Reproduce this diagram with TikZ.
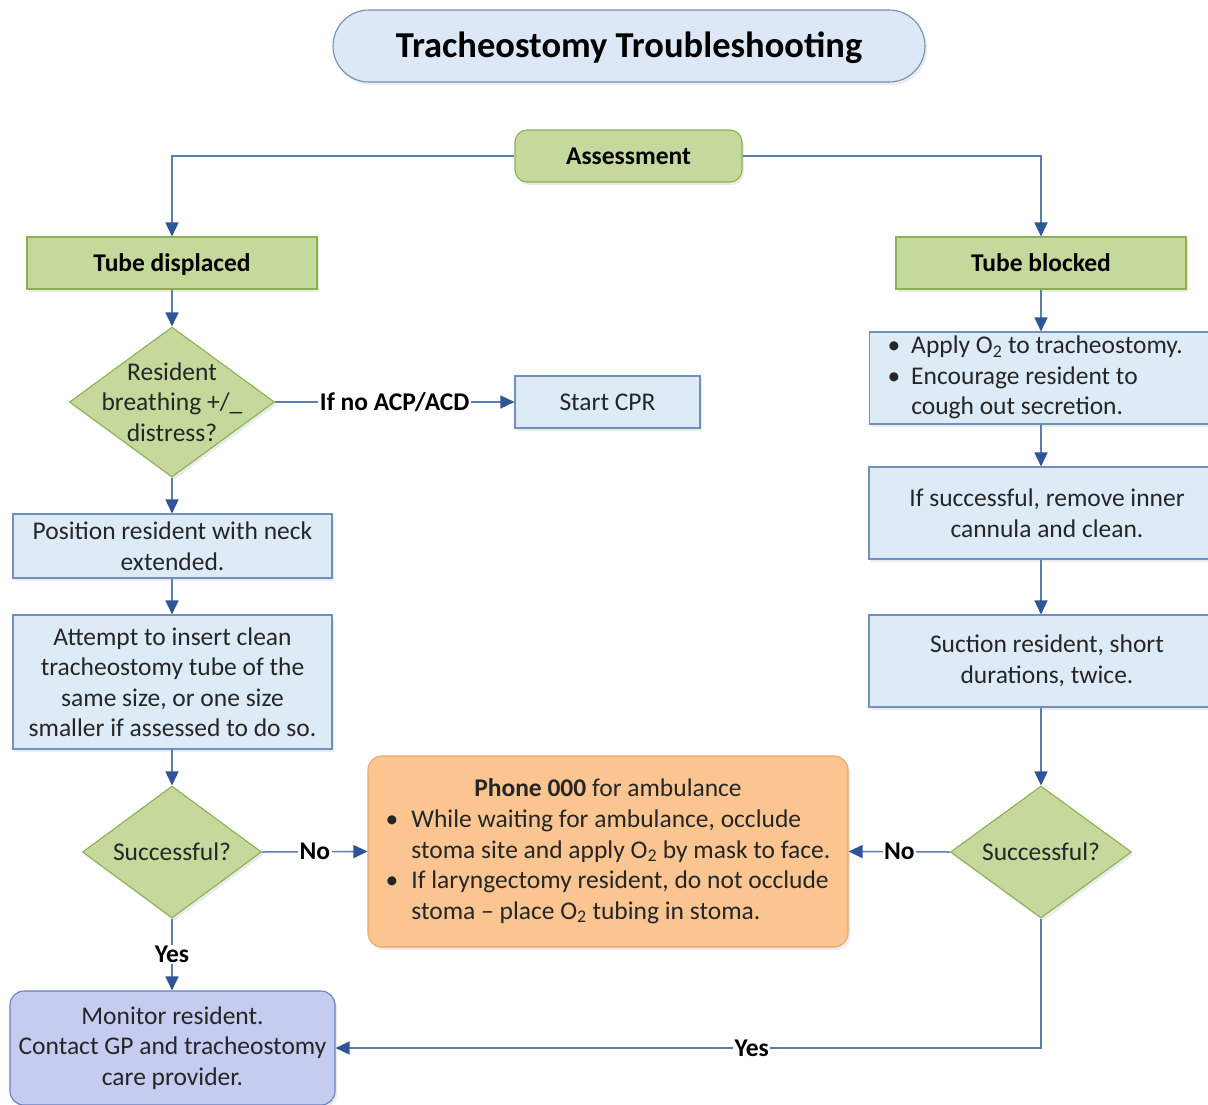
\documentclass[tikz,border=0pt]{standalone}
\usepackage{fontspec}
\setmainfont{Carlito}
\usetikzlibrary{arrows.meta,shapes.geometric,shadows}

\definecolor{lineblue}{HTML}{5A7DB4}
\definecolor{tipblue}{HTML}{2E5597}
\definecolor{greenfill}{HTML}{C4D99B}
\definecolor{greenedge}{HTML}{8DB055}
\definecolor{bluefill}{HTML}{DDEBF7}
\definecolor{blueedge}{HTML}{7090BF}
\definecolor{titlefill}{HTML}{DCE8F6}
\definecolor{titleedge}{HTML}{7090B8}
\definecolor{orangefill}{HTML}{FAC591}
\definecolor{orangeedge}{HTML}{E8A86A}
\definecolor{lavfill}{HTML}{C5CCF0}
\definecolor{lavedge}{HTML}{6A7EC0}

\tikzset{
  bodyfont/.style={font=\fontsize{25.5}{30.5}\selectfont, text=black!85},
  base/.style={bodyfont, inner sep=0pt, line width=1.1pt,
    drop shadow={opacity=0.16, shadow xshift=2pt, shadow yshift=-3pt}},
  greenbox/.style={base, rectangle, fill=greenfill, draw=greenedge,
    font=\bfseries\fontsize{25.5}{30.5}\selectfont, text=black,
    text height=20pt, text depth=4pt},
  bluebox/.style={base, rectangle, fill=bluefill, draw=blueedge, align=center},
  decision/.style={base, diamond, fill=greenfill, draw=greenedge},
  dtext/.style={bodyfont, align=center},
  arr/.style={draw=lineblue, line width=1.5pt,
    -{Triangle[length=14pt,width=13pt,color=tipblue]}},
  lbl/.style={fill=white, inner sep=1.5pt,
    font=\bfseries\fontsize{25.5}{30}\selectfont, text=black},
}

\begin{document}
\begin{tikzpicture}[x=1pt,y=-1pt]
\useasboundingbox (0,0) rectangle (1208,1104);
\clip (0,0) rectangle (1208,1104);

% title banner
\node[base, rectangle, rounded corners=36pt, fill=titlefill, draw=titleedge,
  minimum width=592pt, minimum height=72pt,
  font=\bfseries\fontsize{36.5}{40}\selectfont, text=black,
  text height=28pt, text depth=4.5pt]
  (title) at (629,46) {Tracheostomy Troubleshooting};

% top of the chart
\node[greenbox, rounded corners=12pt, minimum width=227pt, minimum height=52pt]
  (assess) at (628.5,156) {Assessment};
\node[greenbox, minimum width=290pt, minimum height=52pt]
  (tdisp) at (172,263) {Tube displaced};
\node[greenbox, minimum width=290pt, minimum height=52pt]
  (tblock) at (1041,263) {Tube blocked};

% left branch: displaced tube
\node[decision, minimum width=205pt, minimum height=150pt,
  label={[dtext]center:Resident\\breathing +/\_\\distress?}]
  (d1) at (172,402) {};
\node[bluebox, minimum width=185pt, minimum height=52pt]
  (cpr) at (607.5,402) {Start CPR};
\node[bluebox, minimum width=319pt, minimum height=64pt]
  (pos) at (172.5,546) {Position resident with neck\\extended.};
\node[bluebox, minimum width=319pt, minimum height=134pt]
  (att) at (172.5,682) {Attempt to insert clean\\tracheostomy tube of the\\same size, or one size\\smaller if assessed to do so.};
\node[decision, minimum width=179pt, minimum height=132pt,
  label={[dtext]center:Successful?}]
  (d2) at (172,852) {};

% emergency action
\node[base, rectangle, rounded corners=14pt, fill=orangefill, draw=orangeedge,
  minimum width=480pt, minimum height=191pt]
  (amb) at (608,851.5) {%
  \begin{tabular}{@{}l@{\hspace{13pt}}l@{}}
  \multicolumn{2}{@{}c@{}}{\textbf{Phone 000} for ambulance}\\[1pt]
  \textbullet & While waiting for ambulance, occlude\\
   & stoma site and apply O\textsubscript{2} by mask to face.\\
  \textbullet & If laryngectomy resident, do not occlude\\
   & stoma – place O\textsubscript{2} tubing in stoma.
  \end{tabular}};

% right branch: blocked tube
\node[bluebox, minimum width=356pt, minimum height=92pt, anchor=west,
  text width=320pt, inner xsep=18pt, align=flush left]
  (apply) at (869,378) {%
  \begin{tabular}{@{}l@{\hspace{11pt}}l@{}}
  \textbullet & Apply O\textsubscript{2} to tracheostomy.\\
  \textbullet & Encourage resident to\\
   & cough out secretion.
  \end{tabular}};
\node[bluebox, minimum width=356pt, minimum height=92pt]
  (inner) at (1047,513) {If successful, remove inner\\cannula and clean.};
\node[bluebox, minimum width=356pt, minimum height=92pt]
  (suct) at (1047,661) {Suction resident, short\\durations, twice.};
\node[decision, minimum width=181pt, minimum height=132pt,
  label={[dtext]center:Successful?}]
  (d3) at (1041,852) {};

% outcome
\node[base, rectangle, rounded corners=14pt, fill=lavfill, draw=lavedge,
  minimum width=325pt, minimum height=114pt, align=center]
  (mon) at (172.5,1048) {Monitor resident.\\Contact GP and tracheostomy\\care provider.};

% connectors
\draw[arr] (assess.west) -| (tdisp.north);
\draw[arr] (assess.east) -| (tblock.north);
\draw[arr] (tdisp.south) -- (d1.north);
\draw[arr] (d1.east) -- node[lbl] {If no ACP/ACD} (cpr.west);
\draw[arr] (d1.south) -- (d1.south |- pos.north);
\draw[arr] (d1.south |- pos.south) -- (d1.south |- att.north);
\draw[arr] (d1.south |- att.south) -- (d2.north);
\draw[arr] (d2.east) -- node[lbl] {No} (amb.west);
\draw[arr] (d2.south) -- node[lbl] {Yes} (d2.south |- mon.north);

\draw[arr] (tblock.south) -- (tblock.south |- apply.north);
\draw[arr] (tblock.south |- apply.south) -- (tblock.south |- inner.north);
\draw[arr] (tblock.south |- inner.south) -- (tblock.south |- suct.north);
\draw[arr] (tblock.south |- suct.south) -- (d3.north);
\draw[arr] (d3.west) -- node[lbl] {No} (amb.east);
\draw[arr] (d3.south) |- node[lbl, pos=0.705] {Yes} (mon.east);
\end{tikzpicture}
\end{document}
